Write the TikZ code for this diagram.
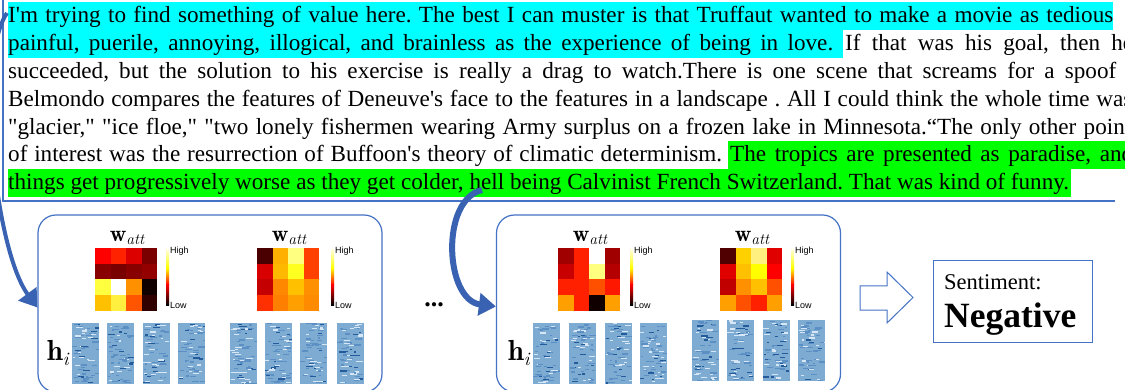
\documentclass[tikz,border=0pt]{standalone}
\usepackage[no-math]{fontspec}
\setmainfont{Liberation Serif}[Ligatures=TeXOff]
\newfontfamily\barfont{Liberation Sans}
\usepackage{tikz}
\usetikzlibrary{arrows.meta, positioning}

\definecolor{frameblue}{RGB}{68,114,196}
\definecolor{arrowblue}{RGB}{58,98,178}
\definecolor{hlcyan}{RGB}{0,255,255}
\definecolor{hlgreen}{RGB}{0,255,0}
\definecolor{hbase}{RGB}{126,171,210}
\definecolor{hdark}{RGB}{36,92,155}
\definecolor{hmid}{RGB}{92,144,196}
\definecolor{hpale}{RGB}{214,230,244}
\definecolor{bartop}{RGB}{255,255,210}

\tikzstyle{revline} = [anchor=base west, inner sep=0pt, text height=21pt, text depth=7pt, font=\fontsize{23.15}{28}\selectfont]
\tikzstyle{stagebox} = [rectangle, draw=frameblue, line width=1.2pt, rounded corners=18pt, minimum width=344pt, minimum height=177pt]
\tikzstyle{curvearrow} = [draw=arrowblue, -{Triangle[width=22pt,length=17pt]}]
\tikzstyle{mapname} = [anchor=base, inner sep=0pt]
\tikzstyle{barlabel} = [anchor=west, inner sep=0pt, font=\barfont\fontsize{9}{10}\selectfont]
\tikzstyle{hlabel} = [inner sep=0pt]
\tikzstyle{hstripe} = [rectangle, fill=hbase, inner sep=0pt, minimum width=27pt, minimum height=61pt]

% symbols set in Latin Modern
\newcommand{\wattsym}{{\fontfamily{lmr}\fontsize{23}{26}\selectfont\bfseries w}\raisebox{-3pt}{\fontfamily{lmr}\fontsize{15.5}{18}\selectfont\itshape att}}
\newcommand{\hsym}{{\fontfamily{lmr}\fontsize{29}{32}\selectfont\bfseries h}\raisebox{-5pt}{\fontfamily{lmr}\fontsize{19}{22}\selectfont\itshape i}}

% heatmap cells, 4x4, given row by row
\newcommand{\attmap}[3]{%
  \foreach \hexc [count=\n from 0] in {#3} {
    \pgfmathtruncatemacro\mcol{mod(\n,4)}
    \pgfmathtruncatemacro\mrow{div(\n,4)}
    \definecolor{cellc}{HTML}{\hexc}
    \fill[cellc] (#1+\mcol*15.5, #2+\mrow*15.75) rectangle ++(15.6,15.85);
  }
}

\begin{document}
\frenchspacing
\begin{tikzpicture}[x=1pt, y=-1pt]
    \clip (0,0) rectangle (1125,390);

    % Review text
    \node (ln1) [revline, fill=hlcyan] at (8,23) {\makebox[1105pt][s]{I'm trying to find something of value here. The best I can muster is that Truffaut wanted to make a movie as tedious}};
    \node (ln2a) [revline, fill=hlcyan] at (8,50.8) {\makebox[825pt][s]{painful, puerile, annoying, illogical, and brainless as the experience of being in love.}\hspace*{10pt}};
    \node (ln2b) [revline] at (845,50.8) {\makebox[288pt][s]{If that was his goal, then he}};
    \node (ln3) [revline] at (8,78.6) {\makebox[1108pt][s]{succeeded, but the solution to his exercise is really a drag to watch.There is one scene that screams for a spoof}};
    \node (ln4) [revline] at (8,106.4) {\makebox[1124pt][s]{Belmondo compares the features of Deneuve's face to the features in a landscape . All I could think the whole time was}};
    \node (ln5) [revline] at (8,134.2) {\makebox[1123pt][s]{"glacier," "ice floe," "two lonely fishermen wearing Army surplus on a frozen lake in Minnesota.“The only other point}};
    \node (ln6a) [revline] at (8,162) {\makebox[714pt][s]{of interest was the resurrection of Buffoon's theory of climatic determinism.}};
    \node (ln6b) [revline, fill=hlgreen] at (728,162) {\hspace*{2pt}\makebox[403pt][s]{The tropics are presented as paradise, and}};
    \node (ln7) [revline, fill=hlgreen] at (8,189.8) {things get progressively worse as they get colder, hell being Calvinist French Switzerland. That was kind of funny.\hspace*{2pt}};
    \draw [frameblue, line width=1.3pt] (3,-2) -- (3,201) -- (1115,201);

    % Attention stages
    \node (box1) [stagebox] at (210,303.5) {};
    \node (box2) [stagebox] at (668.5,303.5) {};
    \node (dots) [anchor=base, inner sep=0pt, font=\fontsize{26}{30}\selectfont\bfseries] at (434,306) {...};

    % Attention weights
    \attmap{95}{248}{FF0000,FF2200,DD0000,7A0000, 880000,780000,880000,940000, FFFF40,FFFFFF,FF9000,100000, FFC000,FFF040,FF5500,300000}
    \attmap{257}{248}{4A0000,FFB000,FFFF80,FF4000, D80000,FFB800,FFFF20,FF4000, C40000,FF8800,FFC000,FF9000, FF3000,FF8000,FFA000,FF8C00}
    \attmap{558}{248}{A00000,FF2000,FFFFFF,A00000, C80000,FF2000,FFFF80,B40000, FF2000,FF2000,FF5000,FF1800, FFA000,FF2000,100000,FFA000}
    \attmap{720}{248}{500000,FFD000,FFF080,E00000, E00000,FFC000,FFFF00,FF0000, C00000,FF9000,FFC000,FF5000, FFA000,FF5000,FF2000,FFA000}
    \foreach \mx [count=\m] in {127,289,590,752} {
        \node (watt\m) [mapname] at (\mx,242) {\wattsym};
    }
    \foreach \bx [count=\b] in {166,331,630,791} {
        \shade [top color=bartop, bottom color=yellow] (\bx,250) rectangle ++(3,18);
        \shade [top color=yellow, bottom color=red] (\bx,268) rectangle ++(3,17);
        \shade [top color=red, bottom color=black] (\bx,285) rectangle ++(3,20);
        \node (high\b) [barlabel] at (\bx+4,251) {High};
        \node (low\b) [barlabel] at (\bx+4,305) {Low};
    }

    % Hidden states
    \pgfmathsetseed{42}
    \foreach \sx/\sy [count=\s] in {72/323, 107/323, 143/323, 178/323, 230/323, 265/323, 300/323, 337/323, 533/323, 569/323, 605/323, 640/323, 692/320, 727/320, 763/320, 798/320} {
        \node (hs\s) [hstripe] at (\sx+13.5,\sy+30.5) {};
        \foreach \k in {1,...,60} {
            \pgfmathsetmacro\dl{2+rnd*5}
            \pgfmathsetmacro\dx{rnd*(27-\dl)}
            \pgfmathsetmacro\dy{rnd*59.8}
            \pgfmathtruncatemacro\dc{rnd*10}
            \ifnum\dc<2 \def\dcol{hdark}\else\ifnum\dc<7 \def\dcol{hmid}\else\def\dcol{hpale}\fi\fi
            \fill [\dcol] (\sx+\dx,\sy+\dy) rectangle ++(\dl,1.2);
        }
    }
    \node (hlab1) [hlabel, left=3pt of hs1] {\hsym};
    \node (hlab2) [hlabel, left=3pt of hs9] {\hsym};

    % Output
    \draw [frameblue, line width=1pt] (860,286) -- (887,286) -- (887,272) -- (913,297.5) -- (887,323) -- (887,310) -- (860,310) -- cycle;
    \node (sentbox) [draw=frameblue, line width=1pt, minimum width=159pt, minimum height=81pt, inner sep=0pt] at (1012.5,301.5) {};
    \node (senthead) [anchor=base west, inner sep=0pt, font=\fontsize{22.5}{26}\selectfont] at (944,290) {Sentiment:};
    \node (sentval) [anchor=base west, inner sep=0pt, font=\fontsize{35.5}{40}\selectfont\bfseries] at (944,327) {Negative};

    % Flow arrows
    \coordinate (from1) at (7,13);
    \coordinate (from2) at (482,190);
    \draw [curvearrow, line width=4pt] (from1) .. controls (-25,60) and (-5,250) .. ([yshift=-4pt]box1.west);
    \draw [curvearrow, line width=6pt] (from2) .. controls (440,200) and (445,300) .. ([yshift=-3pt]box2.west);
\end{tikzpicture}
\end{document}
